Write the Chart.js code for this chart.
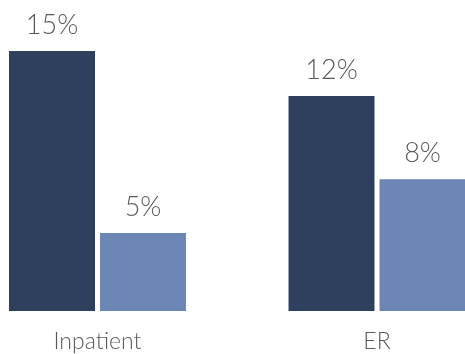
<!DOCTYPE html>
<html>
<head>
<meta charset="utf-8">
<script src="https://cdn.jsdelivr.net/npm/chart.js@4/dist/chart.umd.min.js"></script>
<style>
  html, body { margin: 0; padding: 0; background: #ffffff; }
  #wrap { width: 465px; height: 354px; }
</style>
</head>
<body>
<div id="wrap"><canvas id="c" width="465" height="354"></canvas></div>
<script>
const categories = ['Inpatient', 'ER'];
const seriesDark = [15, 12.4];
const seriesLight = [4.5, 7.6];
const seriesNames = ['Series A', 'Series B'];
const yMax = 15;

const valueLabelPlugin = {
  id: 'valueLabels',
  afterDatasetsDraw(chart) {
    const ctx = chart.ctx;
    ctx.save();
    ctx.font = '300 27px Lato';
    ctx.fillStyle = '#595959';
    ctx.textAlign = 'center';
    ctx.textBaseline = 'alphabetic';
    chart.data.datasets.forEach((ds, di) => {
      const meta = chart.getDatasetMeta(di);
      meta.data.forEach((bar, i) => {
        const txt = Math.round(ds.data[i]) + '%';
        ctx.fillText(txt, bar.x, bar.y - 17);
      });
    });
    ctx.restore();
  }
};

function draw() {
  new Chart(document.getElementById('c'), {
    type: 'bar',
    data: {
      labels: categories,
      datasets: [
        { label: seriesNames[0], data: seriesDark, backgroundColor: '#2f405e', clip: false },
        { label: seriesNames[1], data: seriesLight, backgroundColor: '#6c86b5', clip: false }
      ]
    },
    options: {
      responsive: false,
      animation: false,
      devicePixelRatio: 1,
      categoryPercentage: 0.651,
      barPercentage: 0.945,
      layout: { padding: { left: 97.5, right: 88, top: 51, bottom: 0 } },
      plugins: { legend: { display: false }, tooltip: { enabled: false } },
      scales: {
        x: {
          offset: false,
          grid: { display: false, drawTicks: false },
          border: { display: false },
          ticks: { color: '#595959', font: { family: 'Lato', size: 23, weight: 300 }, padding: 16.5 },
          afterFit(scale) { scale.height = 43; }
        },
        y: { display: false, min: 0, max: yMax }
      }
    },
    plugins: [valueLabelPlugin]
  });
}

if (document.fonts && document.fonts.load) {
  Promise.all([document.fonts.load('300 27px Lato'), document.fonts.load('300 23px Lato')]).then(draw, draw);
} else { draw(); }
</script>
</body>
</html>
